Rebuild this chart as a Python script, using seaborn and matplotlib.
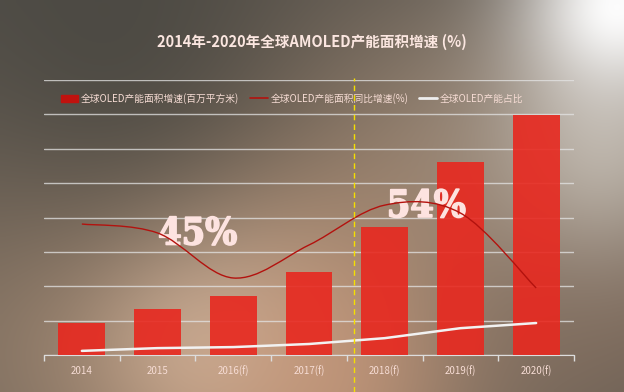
import numpy as np
import matplotlib
matplotlib.use('Agg')
import matplotlib.pyplot as plt
import matplotlib.patheffects as pe
import seaborn as sns
from matplotlib.path import Path
from matplotlib.patches import PathPatch
from matplotlib.lines import Line2D

# ─── 数据 ───
years = ['2014', '2015', '2016(f)', '2017(f)', '2018(f)', '2019(f)', '2020(f)']
area = [9.3, 13.4, 17.2, 24.1, 37.2, 56.1, 69.8]          # 产能面积(百万平方米)
growth = [38.1, 35.5, 22.4, 32.0, 43.6, 41.3, 19.5]        # 同比增速(%)
share = [1.2, 2.0, 2.3, 3.2, 4.9, 7.8, 9.3]                # 产能占比
labels = ['全球OLED产能面积增速(百万平方米)', '全球OLED产能面积同比增速(%)', '全球OLED产能占比']
title = '2014年-2020年全球AMOLED产能面积增速 (%)'

sns.set_style('white')
plt.rcParams['font.family'] = ['Noto Sans CJK SC', 'DejaVu Sans']

W, H = 624, 392
fig = plt.figure(figsize=(W / 100, H / 100), dpi=100)

# ─── 背景（模糊照片效果）───
bg_ax = fig.add_axes([0, 0, 1, 1])
yy, xx = np.mgrid[0:H:4, 0:W:4].astype(float)
img = np.ones(xx.shape + (3,)) * np.array([0.31, 0.30, 0.28])
blobs = [
    ((0, 320), 160, (0.52, 0.46, 0.40), 0.8),
    ((470, 180), 150, (0.58, 0.52, 0.46), 0.9),
    ((260, 320), 170, (0.72, 0.58, 0.47), 0.95),
    ((210, 320), 80, (0.86, 0.74, 0.64), 0.8),
    ((330, 370), 90, (0.80, 0.60, 0.48), 0.6),
    ((600, 300), 110, (0.50, 0.42, 0.36), 0.8),
    ((600, 150), 80, (0.76, 0.73, 0.69), 0.8),
    ((615, 5), 70, (0.99, 0.99, 0.99), 1.0),
    ((120, 60), 140, (0.26, 0.26, 0.24), 0.7),
]
for (cx, cy), s, col, k in blobs:
    w = k * np.exp(-((xx - cx) ** 2 + (yy - cy) ** 2) / (2 * s ** 2))
    img = img * (1 - w[..., None]) + np.array(col) * w[..., None]
bg_ax.imshow(img, extent=[0, W, H, 0], aspect='auto', interpolation='bilinear')
bg_ax.axis('off')

# ─── 主图 ───
ax = fig.add_axes([44 / W, 1 - 355 / H, 530 / W, 275 / H])
ax.patch.set_alpha(0)
x = np.arange(len(years))

sns.barplot(x=years, y=area, color='#e8281f', alpha=0.9, width=0.62,
            saturation=1, linewidth=0, ax=ax, zorder=3)
ax.set_xlim(-0.5, 6.5)
ax.set_ylim(0, 80)

# 同比增速：平滑曲线（Catmull-Rom -> Bezier）
ax2 = ax.twinx()
ax2.set_ylim(0, 80)
ax2.axis('off')
pts = np.column_stack([x, growth])
verts = [tuple(pts[0])]
codes = [Path.MOVETO]
for i in range(len(pts) - 1):
    p0 = pts[max(i - 1, 0)]
    p1, p2 = pts[i], pts[i + 1]
    p3 = pts[min(i + 2, len(pts) - 1)]
    c1 = p1 + (p2 - p0) / 6
    c2 = p2 - (p3 - p1) / 6
    verts += [tuple(c1), tuple(c2), tuple(p2)]
    codes += [Path.CURVE4] * 3
ax2.add_patch(PathPatch(Path(verts, codes), fill=False, edgecolor='#b3120e',
                        linewidth=1.0, zorder=5))

ax.set_yticks(np.arange(0, 81, 10))
ax.yaxis.grid(True, color='#e4e4e4', linewidth=1, alpha=0.75)
ax.set_axisbelow(True)
ax.tick_params(axis='y', left=False, right=False, labelleft=False)
for side in ['left', 'right', 'top']:
    ax.spines[side].set_visible(False)
ax.spines['bottom'].set_color('#dddddd')
ax.set_xticks(x)
ax.set_xticklabels(years, color='#f6dcd4', fontsize=7)
ax.tick_params(axis='x', which='major', length=0, pad=8)
ax.set_xticks(np.arange(-0.5, 7, 1), minor=True)
ax.tick_params(axis='x', which='minor', bottom=True, length=4, width=1,
               color='#dddddd', direction='out')
ax.set_xlabel('')

# 产能占比
sns.lineplot(x=x, y=share, color='#f2f2f2', linewidth=1.8, ax=ax, zorder=6)

# 标注
for xp, yp, s in [(1.53, 35.2, '45%'), (4.55, 43.2, '54%')]:
    ax.text(xp, yp, s, ha='center', va='center', fontsize=27,
            fontweight='bold', family='DejaVu Serif', fontstretch='condensed',
            color='#fde3e0', zorder=7,
            path_effects=[pe.withStroke(linewidth=1.2, foreground='#fde3e0')])

# 黄色虚线
fig.add_artist(Line2D([354 / W, 354 / W], [0, 1 - 78 / H], color='#f5e000',
                      linewidth=1, linestyle=(0, (4, 3))))

# 图例
handles = [
    plt.Rectangle((0, 0), 1, 1, color='#c0120e'),
    Line2D([0], [0], color='#b3120e', linewidth=1.2),
    Line2D([0], [0], color='#eeeeee', linewidth=2),
]
leg = ax.legend(handles, labels, loc='upper left', bbox_to_anchor=(0.015, 0.985),
                ncol=3, frameon=False, fontsize=7, handlelength=1.8,
                handletextpad=0.3, columnspacing=1.1)
for t in leg.get_texts():
    t.set_color('#f6dcd4')

fig.text(0.5, 1 - 42 / H, title, ha='center', va='center', fontsize=10.5,
         fontweight='bold', color='#fbe6e0')

plt.savefig('out.png', dpi=100)
